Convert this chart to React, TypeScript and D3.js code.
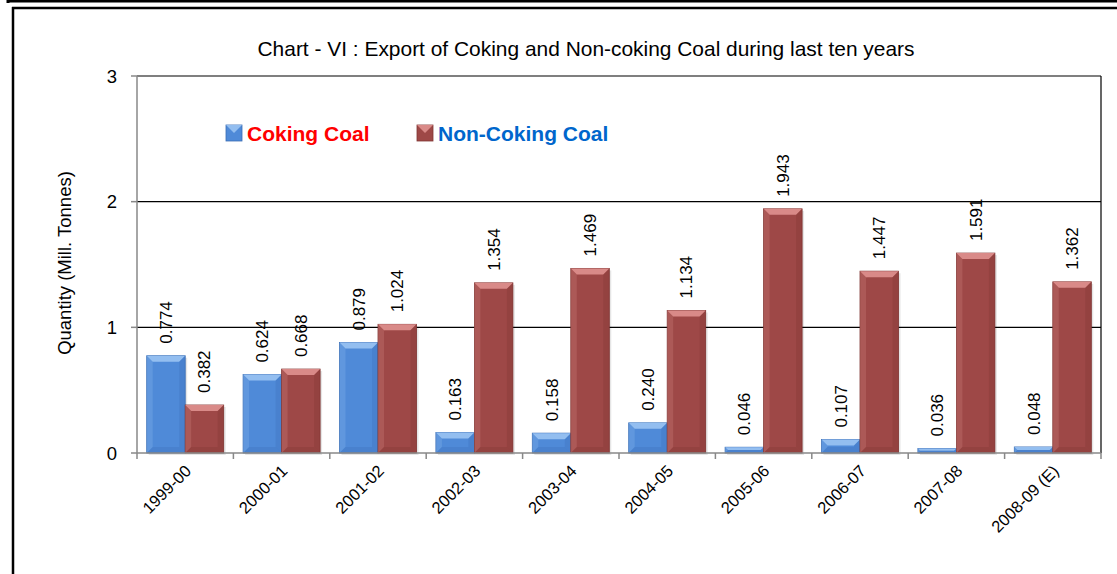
import React from "react";
import * as d3 from "d3";

const categories = ["1999-00", "2000-01", "2001-02", "2002-03", "2003-04", "2004-05", "2005-06", "2006-07", "2007-08", "2008-09 (E)"];
const coking = [0.774, 0.624, 0.879, 0.163, 0.158, 0.24, 0.046, 0.107, 0.036, 0.048];
const nonCoking = [0.382, 0.668, 1.024, 1.354, 1.469, 1.134, 1.943, 1.447, 1.591, 1.362];
const yTicks = [0, 1, 2, 3];

const W = 1117, H = 574;
const left = 137, right = 1101, top = 76, bottom = 453;

export default function App() {
  const x = d3.scaleBand<string>().domain(categories).range([left, right]).paddingInner(0).paddingOuter(0);
  const y = d3.scaleLinear().domain([0, 3]).range([bottom, top]);
  const bw = 38.5;
  const series = [
    { name: "Coking Coal", values: coking, fill: "#4F8AD8", light: "#93BEF0", dark: "#3A6DB5", off: -bw },
    { name: "Non-Coking Coal", values: nonCoking, fill: "#9E4847", light: "#D98A88", dark: "#7F3533", off: 0 },
  ];
  const font = "Arial, 'Liberation Sans', sans-serif";

  const bar = (cx: number, v: number, s: any, key: string) => {
    const x0 = cx + s.off;
    const yt = y(v);
    const h = bottom - yt;
    const b = Math.min(6, h / 2);
    return (
      <g key={key}>
        <rect x={x0 + 2} y={yt + 2} width={bw} height={h} fill="#000" opacity={0.1} />
        <rect x={x0} y={yt} width={bw} height={h} fill={s.fill} stroke={s.dark} strokeWidth={0.8} />
        <polygon points={`${x0},${yt} ${x0 + bw},${yt} ${x0 + bw - b},${yt + b} ${x0 + b},${yt + b}`} fill={s.light} />
        <polygon points={`${x0},${yt} ${x0 + b},${yt + b} ${x0 + b},${bottom - b} ${x0},${bottom}`} fill={s.light} opacity={0.25} />
        <polygon points={`${x0 + bw},${yt} ${x0 + bw - b},${yt + b} ${x0 + bw - b},${bottom - b} ${x0 + bw},${bottom}`} fill={s.dark} opacity={0.3} />
        <polygon points={`${x0},${bottom} ${x0 + b},${bottom - b} ${x0 + bw - b},${bottom - b} ${x0 + bw},${bottom}`} fill={s.dark} opacity={0.3} />
      </g>
    );
  };

  return (
    <svg width={W} height={H} style={{ position: "absolute", left: 0, top: 0 }} fontFamily={font}>
      <rect x={0} y={0} width={W} height={H} fill="#fff" />
      {/* frames */}
      <line x1={8} y1={1} x2={W} y2={1} stroke="#000" strokeWidth={3} />
      <line x1={8} y1={0} x2={8} y2={3} stroke="#000" strokeWidth={3} />
      <line x1={12} y1={8} x2={W} y2={8} stroke="#000" strokeWidth={2.5} />
      <line x1={13} y1={7} x2={13} y2={H} stroke="#000" strokeWidth={2.5} />

      <text x={586} y={56} textAnchor="middle" fontSize={21} fill="#000" textLength={657} lengthAdjust="spacingAndGlyphs">
        Chart - VI : Export of Coking and Non-coking Coal during last ten years
      </text>

      {/* gridlines */}
      {yTicks.filter(t => t > 0).map(t => (
        <line key={t} x1={left} x2={right} y1={y(t)} y2={y(t)} stroke="#000" strokeWidth={1.2} />
      ))}
      <line x1={right} x2={right} y1={top} y2={bottom} stroke="#000" strokeWidth={1.2} />

      {/* bars */}
      {categories.map((c, i) => {
        const cx = x(c)! + x.bandwidth() / 2;
        return series.map((s, j) => bar(cx, s.values[i], s, `${i}-${j}`));
      })}

      {/* value labels */}
      {categories.map((c, i) => {
        const cx = x(c)! + x.bandwidth() / 2;
        return series.map((s, j) => {
          const lx = cx + s.off + bw / 2;
          const ly = y(s.values[i]) - 12;
          return (
            <text key={`l${i}-${j}`} transform={`translate(${lx + 6},${ly}) rotate(-90)`} fontSize={17} fill="#000">
              {s.values[i].toFixed(3)}
            </text>
          );
        });
      })}

      {/* axes */}
      <line x1={left} x2={left} y1={top} y2={bottom} stroke="#888" strokeWidth={1.5} />
      <line x1={left} x2={right} y1={bottom} y2={bottom} stroke="#888" strokeWidth={1.5} />
      {yTicks.map(t => (
        <g key={t}>
          <line x1={left - 6} x2={left} y1={y(t)} y2={y(t)} stroke="#888" strokeWidth={1.5} />
          <text x={117} y={y(t) + 6.5} textAnchor="end" fontSize={18.5} fill="#000">{t}</text>
        </g>
      ))}
      {categories.map((c, i) => (
        <line key={`t${i}`} x1={x(c)!} x2={x(c)!} y1={bottom} y2={bottom + 6} stroke="#888" strokeWidth={1.5} />
      ))}
      <line x1={right} x2={right} y1={bottom} y2={bottom + 6} stroke="#888" strokeWidth={1.5} />
      {categories.map((c, i) => {
        const cx = x(c)! + x.bandwidth() / 2;
        return (
          <text key={`x${i}`} transform={`translate(${cx + 7},${bottom + 19}) rotate(-45)`} textAnchor="end" fontSize={16.5} fill="#000">
            {c}
          </text>
        );
      })}

      <text transform={`translate(71,263) rotate(-90)`} textAnchor="middle" fontSize={18.5} fill="#000">
        Quantity (Mill. Tonnes)
      </text>

      {/* legend */}
      {[
        { s: series[0], x: 226, tx: 247, color: "#FF0000" },
        { s: series[1], x: 417, tx: 438, color: "#0066CC" },
      ].map((l, k) => (
        <g key={`lg${k}`}>
          <rect x={l.x} y={125} width={16} height={16} fill={l.s.fill} stroke={l.s.dark} strokeWidth={0.8} />
          <polygon points={`${l.x},125 ${l.x + 16},125 ${l.x + 8},133`} fill={l.s.light} />
          <text x={l.tx} y={141} fontSize={21} fontWeight="bold" fill={l.color}>{l.s.name}</text>
        </g>
      ))}
    </svg>
  );
}
